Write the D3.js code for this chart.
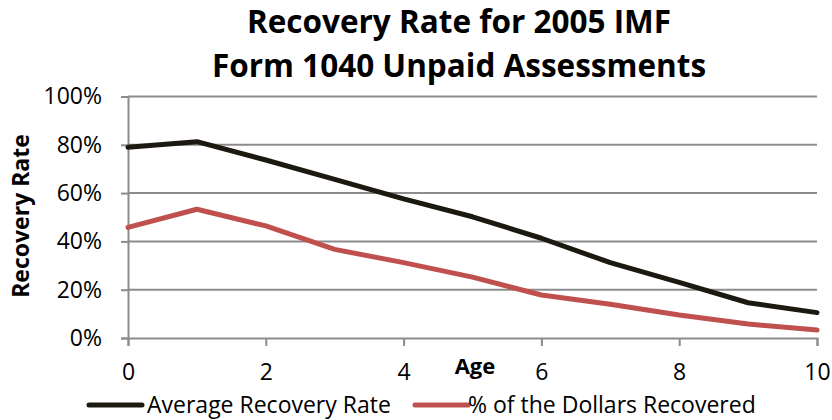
<!DOCTYPE html>
<html>
<head>
<meta charset="utf-8">
<script src="https://cdn.jsdelivr.net/npm/d3@7"></script>
<style>
  html, body { margin: 0; padding: 0; background: #fff; }
  svg { display: block; }
  text { font-family: "Open Sans", Lato, sans-serif; fill: #000; }
</style>
</head>
<body>
<svg id="chart" width="832" height="420"></svg>
<script>
// Recovery rates by age of the assessment (years)
const ages = [0, 1, 2, 3, 4, 5, 6, 7, 8, 9, 10];
const avgRecoveryRate = [0.79, 0.813, 0.737, 0.657, 0.576, 0.502, 0.413, 0.312, 0.23, 0.146, 0.105];
const dollarsRecovered = [0.458, 0.533, 0.464, 0.367, 0.312, 0.252, 0.178, 0.14, 0.095, 0.058, 0.033];
const seriesNames = ["Average Recovery Rate", "% of the Dollars Recovered"];
const seriesColors = ["#1c1a10", "#c0504d"];
const yTicks = [0, 0.2, 0.4, 0.6, 0.8, 1.0];
const xTicks = [0, 2, 4, 6, 8, 10];
const titleLines = ["Recovery Rate for 2005 IMF", "Form 1040 Unpaid Assessments"];

const FONT = "'Open Sans', Lato, sans-serif";
const svg = d3.select("#chart");
const plot = { left: 128, right: 817, top: 96.5, bottom: 338 };

const x = d3.scaleLinear().domain([0, 10]).range([plot.left, plot.right]);
const y = d3.scaleLinear().domain([0, 1]).range([plot.bottom, plot.top]);

// horizontal gridlines
svg.append("g")
  .selectAll("line")
  .data(yTicks.filter(d => d > 0))
  .join("line")
  .attr("x1", plot.left).attr("x2", plot.right)
  .attr("y1", d => y(d)).attr("y2", d => y(d))
  .attr("stroke", "#8c8c8c").attr("stroke-width", 2);

// y axis
const yAxis = svg.append("g")
  .attr("transform", `translate(${plot.left},0)`)
  .call(d3.axisLeft(y).tickValues(yTicks).tickFormat(d3.format(".0%")).tickSize(7).tickPadding(19));
yAxis.select(".domain").attr("stroke", "#8c8c8c").attr("stroke-width", 2);
yAxis.selectAll(".tick line").attr("stroke", "#8c8c8c").attr("stroke-width", 2);
yAxis.selectAll(".tick text").style("font-size", "23px").style("font-family", FONT).attr("fill", "#000");

// x axis
const xAxis = svg.append("g")
  .attr("transform", `translate(0,${plot.bottom})`)
  .call(d3.axisBottom(x).tickValues(xTicks).tickFormat(d3.format("d")).tickSize(8).tickPadding(18));
xAxis.select(".domain").attr("stroke", "#8c8c8c").attr("stroke-width", 2);
xAxis.selectAll(".tick line").attr("stroke", "#8c8c8c").attr("stroke-width", 2);
xAxis.selectAll(".tick text").style("font-size", "23px").style("font-family", FONT).attr("fill", "#000");

// series lines
const line = d3.line().x((d, i) => x(ages[i])).y(d => y(d));
[avgRecoveryRate, dollarsRecovered].forEach((vals, k) => {
  svg.append("path")
    .datum(vals)
    .attr("d", line)
    .attr("fill", "none")
    .attr("stroke", seriesColors[k])
    .attr("stroke-width", 5)
    .attr("stroke-linejoin", "round")
    .attr("stroke-linecap", "round");
});

// title
svg.append("text")
  .attr("text-anchor", "middle")
  .style("font-size", "31.5px").style("font-weight", "bold")
  .selectAll("tspan")
  .data(titleLines)
  .join("tspan")
  .attr("x", 459)
  .attr("y", (d, i) => 33 + i * 44)
  .text(d => d);

// axis titles
svg.append("text")
  .attr("transform", "translate(29,216) rotate(-90)")
  .attr("text-anchor", "middle")
  .style("font-size", "23px").style("font-weight", "bold")
  .text("Recovery Rate");

svg.append("text")
  .attr("x", 475).attr("y", 374)
  .attr("text-anchor", "middle")
  .style("font-size", "22px").style("font-weight", "bold")
  .text("Age");

// legend
const legendItems = [{ x: 89, tx: 147 }, { x: 415, tx: 468 }];
legendItems.forEach((it, k) => {
  svg.append("line")
    .attr("x1", it.x).attr("x2", it.x + 53)
    .attr("y1", 405).attr("y2", 405)
    .attr("stroke", seriesColors[k]).attr("stroke-width", 5)
    .attr("stroke-linecap", "round");
  svg.append("text")
    .attr("x", it.tx).attr("y", 412.5)
    .style("font-size", "23px")
    .text(seriesNames[k]);
});
</script>
</body>
</html>
